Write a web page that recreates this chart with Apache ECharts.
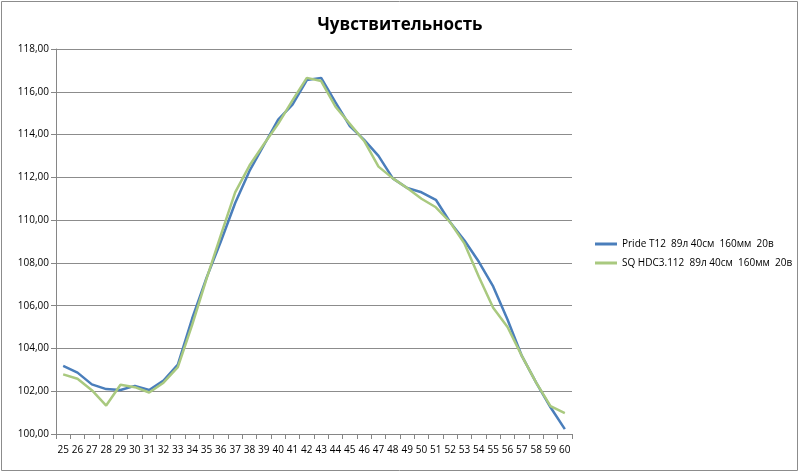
<!DOCTYPE html>
<html>
<head>
<meta charset="utf-8">
<script src="https://cdn.jsdelivr.net/npm/echarts@6/dist/echarts.min.js"></script>
<style>html,body{margin:0;padding:0;background:#fff}#c{width:800px;height:473px}</style>
</head>
<body>
<div id="c"></div>
<script>
var categories = [25,26,27,28,29,30,31,32,33,34,35,36,37,38,39,40,41,42,43,44,45,46,47,48,49,50,51,52,53,54,55,56,57,58,59,60].map(String);
var pride = [103.18,102.87,102.32,102.10,102.06,102.25,102.06,102.50,103.24,105.40,107.30,109.00,110.80,112.30,113.50,114.70,115.40,116.55,116.65,115.50,114.40,113.75,113.00,111.95,111.50,111.30,110.95,109.90,109.05,108.05,106.90,105.35,103.65,102.40,101.25,100.23];
var sq = [102.79,102.58,102.05,101.33,102.30,102.19,101.94,102.40,103.13,105.10,107.25,109.30,111.30,112.55,113.55,114.50,115.60,116.65,116.50,115.30,114.50,113.70,112.50,111.95,111.50,111.00,110.60,109.90,108.90,107.35,105.90,105.00,103.65,102.40,101.30,100.98];
var seriesNames = ['Pride T12  89л 40см  160мм  20в', 'SQ HDC3.112  89л 40см  160мм  20в'];
var yTicks = {min:100, max:118, interval:2};

var chart = echarts.init(document.getElementById('c'), null, {renderer:'canvas'});
var font = 'Open Sans, Liberation Sans, sans-serif';
chart.setOption({
  animation:false,
  backgroundColor:'#fff',
  title:{text:'Чувствительность', left:395, top:12, textAlign:'center',
    textStyle:{fontFamily:font, fontSize:17, fontWeight:'bold', color:'#000'}},
  graphic:[{type:'rect', shape:{x:1.5,y:1.5,width:796,height:469}, style:{fill:null, stroke:'#8c8c8c', lineWidth:1}, silent:true}],
  legend:{orient:'vertical', left:590, top:234, itemWidth:22, itemHeight:3, itemGap:9, icon:'rect',
    textStyle:{fontFamily:font, fontSize:10, color:'#000'}, data:seriesNames},
  grid:{left:56, right:228, top:49, bottom:39, containLabel:false},
  xAxis:{type:'category', data:categories, boundaryGap:true,
    axisLine:{lineStyle:{color:'#868686'}},
    axisTick:{show:true, length:5, lineStyle:{color:'#868686'}},
    axisLabel:{interval:0, margin:11, fontFamily:font, fontSize:10, color:'#000'}},
  yAxis:{type:'value', min:yTicks.min, max:yTicks.max, interval:yTicks.interval,
    axisLine:{show:true, lineStyle:{color:'#868686'}},
    axisTick:{show:true, length:5, lineStyle:{color:'#868686'}},
    splitLine:{lineStyle:{color:'#8c8c8c', width:1}},
    axisLabel:{margin:7, fontFamily:font, fontSize:10, color:'#000',
      formatter:function(v){return v.toFixed(2).replace('.',',');}}},
  series:[
    {name:seriesNames[0], type:'line', data:pride, symbol:'none', lineStyle:{width:2.5, color:'#4a7ebb'}, itemStyle:{color:'#4a7ebb'}},
    {name:seriesNames[1], type:'line', data:sq, symbol:'none', lineStyle:{width:2.5, color:'#a9c97f'}, itemStyle:{color:'#a9c97f'}}
  ]
});
</script>
</body>
</html>
